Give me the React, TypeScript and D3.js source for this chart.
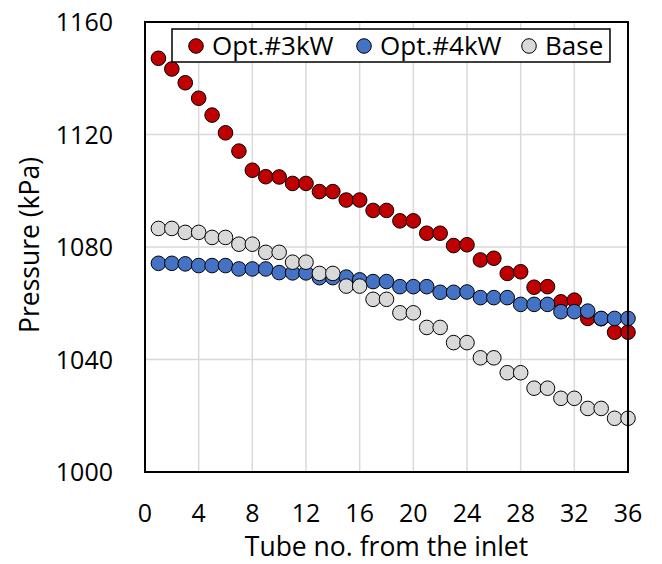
import React from "react";
import * as d3 from "d3";

const tubes = d3.range(1, 37);

const opt3kW = [
  1147.1, 1143.3, 1138.4, 1132.9, 1126.9, 1120.6, 1114.1, 1107.3, 1105.0, 1104.9,
  1102.6, 1102.6, 1099.7, 1099.7, 1096.7, 1096.7, 1093.0, 1093.0, 1089.3, 1089.3,
  1084.9, 1084.9, 1080.5, 1080.8, 1075.4, 1076.0, 1070.6, 1071.2, 1065.7, 1065.9,
  1060.5, 1061.1, 1054.6, 1054.5, 1049.7, 1049.7,
];

const opt4kW = [
  1074.2, 1074.2, 1074.0, 1073.4, 1073.4, 1073.4, 1072.2, 1072.2, 1072.2, 1070.9,
  1070.8, 1070.8, 1069.1, 1069.1, 1069.3, 1068.3, 1067.7, 1067.7, 1065.9, 1065.9,
  1065.9, 1063.9, 1063.9, 1064.0, 1062.0, 1062.0, 1062.0, 1059.6, 1059.6, 1059.6,
  1057.0, 1057.0, 1057.2, 1054.6, 1054.6, 1054.6,
];

const base = [
  1086.6, 1086.6, 1085.2, 1085.2, 1083.4, 1083.4, 1081.0, 1081.0, 1078.1, 1078.1,
  1074.6, 1074.6, 1070.6, 1070.6, 1066.1, 1066.1, 1061.4, 1061.4, 1056.6, 1056.6,
  1051.4, 1051.4, 1046.0, 1046.0, 1040.6, 1040.6, 1035.3, 1035.3, 1029.8, 1029.8,
  1026.2, 1026.2, 1022.6, 1022.6, 1019.1, 1019.1,
];

const xTicks = [0, 4, 8, 12, 16, 20, 24, 28, 32, 36];
const yTicks = [1000, 1040, 1080, 1120, 1160];

const seriesList = [
  { name: "Opt.#3kW", values: opt3kW, color: "#c00000" },
  { name: "Opt.#4kW", values: opt4kW, color: "#4472c4" },
  { name: "Base", values: base, color: "#d9d9d9" },
];

const W = 662;
const H = 564;
const plot = { left: 145, right: 628, top: 22, bottom: 472 };
const font = "'Open Sans', sans-serif";

export default function App() {
  const x = d3.scaleLinear().domain([0, 36]).range([plot.left, plot.right]);
  const y = d3.scaleLinear().domain([1000, 1160]).range([plot.bottom, plot.top]);

  // legend marker / label positions
  const legendItems = [
    { cx: 196, tx: 212 },
    { cx: 364, tx: 380 },
    { cx: 529, tx: 545 },
  ];

  return (
    <svg
      width={W}
      height={H}
      style={{ position: "absolute", left: 0, top: 0, background: "#fff" }}
      fontFamily={font}
    >
      <rect x={0} y={0} width={W} height={H} fill="#fff" />
      {xTicks.map((t) => (
        <line
          key={"gx" + t}
          x1={x(t)}
          x2={x(t)}
          y1={plot.top}
          y2={plot.bottom}
          stroke="#d9d9d9"
          strokeWidth={1.5}
        />
      ))}
      {yTicks.map((t) => (
        <line
          key={"gy" + t}
          x1={plot.left}
          x2={plot.right}
          y1={y(t)}
          y2={y(t)}
          stroke="#d9d9d9"
          strokeWidth={1.5}
        />
      ))}
      {seriesList.map((s) => (
        <g key={s.name}>
          {s.values.map((v, i) => (
            <circle
              key={i}
              cx={x(tubes[i])}
              cy={y(v)}
              r={7.3}
              fill={s.color}
              stroke="#000"
              strokeWidth={1}
            />
          ))}
        </g>
      ))}
      <rect
        x={plot.left}
        y={plot.top}
        width={plot.right - plot.left}
        height={plot.bottom - plot.top}
        fill="none"
        stroke="#000"
        strokeWidth={2}
      />
      {yTicks.map((t) => (
        <text
          key={"ty" + t}
          x={113}
          y={y(t)}
          dy="0.36em"
          textAnchor="end"
          fontSize={25}
          fill="#000"
        >
          {t}
        </text>
      ))}
      {xTicks.map((t) => (
        <text
          key={"tx" + t}
          x={x(t)}
          y={513}
          dy="0.36em"
          textAnchor="middle"
          fontSize={25}
          fill="#000"
        >
          {t}
        </text>
      ))}
      <text
        x={(plot.left + plot.right) / 2}
        y={556}
        textAnchor="middle"
        fontSize={26.5}
        fill="#000"
      >
        Tube no. from the inlet
      </text>
      <text
        transform={`translate(39, ${(plot.top + plot.bottom) / 2 - 2}) rotate(-90)`}
        textAnchor="middle"
        fontSize={26.5}
        fill="#000"
      >
        Pressure (kPa)
      </text>
      <rect x={172} y={29} width={438} height={33} fill="#fff" stroke="#000" strokeWidth={1.5} />
      {seriesList.map((s, i) => (
        <g key={"lg" + s.name}>
          <circle cx={legendItems[i].cx} cy={46} r={7.3} fill={s.color} stroke="#000" strokeWidth={1} />
          <text x={legendItems[i].tx} y={46} dy="0.36em" fontSize={26} fill="#000">
            {s.name}
          </text>
        </g>
      ))}
    </svg>
  );
}
